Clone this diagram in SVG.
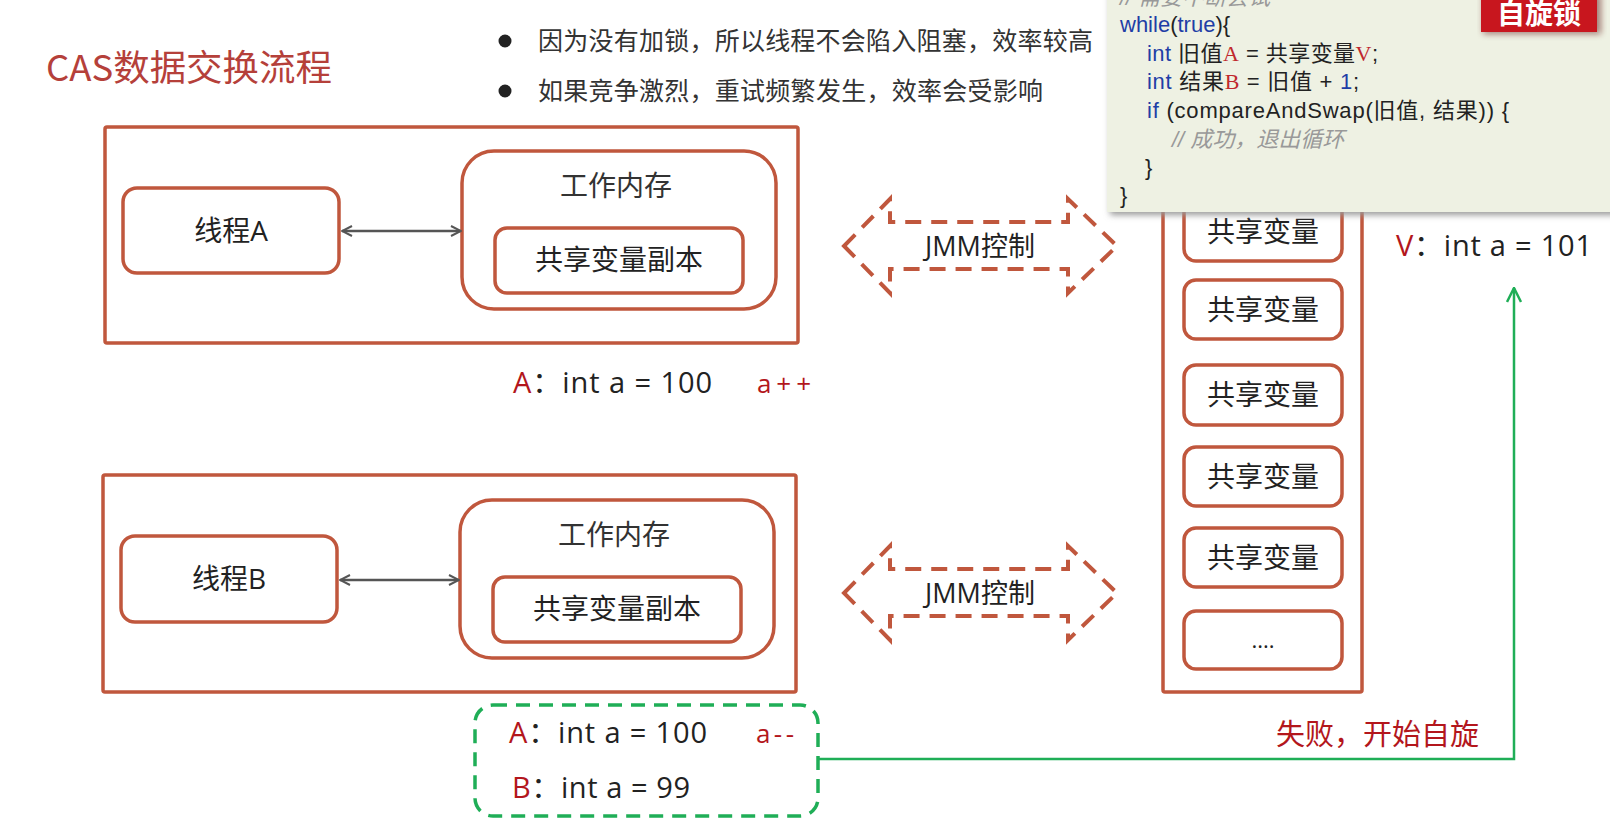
<svg xmlns="http://www.w3.org/2000/svg" width="1610" height="823" viewBox="0 0 1610 823">
<defs>
<style>
.box{fill:#fff;stroke:#c0573d;stroke-width:3.5}
.t{font-family:"Open Sans","Noto Sans CJK SC",sans-serif;fill:#222}
.cjk{font-family:"Noto Sans CJK SC",sans-serif;fill:#222}
.red{fill:#b3161c}
.jmm{fill:none;stroke:#c0573d;stroke-width:4;stroke-dasharray:16 10}
.code{font-family:"Liberation Sans","Noto Sans CJK SC",sans-serif;font-size:22px;fill:#222}
.kw{fill:#1f3ea6}
.rv{font-family:"Liberation Serif",serif;fill:#c0282d}
</style>
<marker id="ga" viewBox="0 0 12 12" refX="11" refY="6" markerWidth="12" markerHeight="12" markerUnits="userSpaceOnUse" orient="auto-start-reverse">
<path d="M1,1 L11,6 L1,11" fill="none" stroke="#555" stroke-width="2"/>
</marker>
<marker id="gr" viewBox="0 0 16 16" refX="15" refY="8" markerWidth="16" markerHeight="16" markerUnits="userSpaceOnUse" orient="auto">
<path d="M1,1 L15,8 L1,15" fill="none" stroke="#1fae57" stroke-width="2.5"/>
</marker>
<filter id="sh" x="-5%" y="-20%" width="110%" height="140%">
<feGaussianBlur stdDeviation="3"/>
</filter>
</defs>
<rect width="1610" height="823" fill="#fff"/>

<g id="title">
<text x="46" y="81" class="cjk" style="font-size:36px;fill:#b5403a" textLength="286" lengthAdjust="spacingAndGlyphs">CAS数据交换流程</text>
</g>
<g id="bullets">
<circle cx="505" cy="41" r="6.5" fill="#222"/>
<text x="538" y="50" class="cjk" style="font-size:25px;fill:#333" textLength="555">因为没有加锁，所以线程不会陷入阻塞，效率较高</text>
<circle cx="505" cy="91" r="6.5" fill="#222"/>
<text x="538" y="100" class="cjk" style="font-size:25px;fill:#333" textLength="505">如果竞争激烈，重试频繁发生，效率会受影响</text>
</g>

<g id="threadA">
<rect x="105" y="127" width="693" height="216" class="box" rx="2"/>
<rect x="123" y="188" width="216" height="85" rx="14" class="box"/>
<text x="231" y="241" text-anchor="middle" class="t" style="font-size:28px">线程A</text>
<rect x="462" y="151" width="314" height="158" rx="32" class="box"/>
<text x="616" y="196" text-anchor="middle" class="cjk" style="font-size:28px;fill:#333">工作内存</text>
<rect x="495" y="228" width="248" height="65" rx="12" class="box"/>
<text x="619" y="270" text-anchor="middle" class="cjk" style="font-size:28px">共享变量副本</text>
</g>
<g id="labelA">
<text x="513" y="393" class="t" style="font-size:29px" textLength="199"><tspan class="red">A</tspan>：int a = 100</text>
<text x="757" y="393" class="t red" style="font-size:26px" textLength="54">a++</text>
</g>

<g id="threadB">
<rect x="103" y="475" width="693" height="217" class="box" rx="2"/>
<rect x="121" y="536" width="216" height="86" rx="14" class="box"/>
<text x="229" y="589" text-anchor="middle" class="t" style="font-size:28px">线程B</text>
<rect x="460" y="500" width="314" height="158" rx="32" class="box"/>
<text x="614" y="545" text-anchor="middle" class="cjk" style="font-size:28px;fill:#333">工作内存</text>
<rect x="493" y="577" width="248" height="65" rx="12" class="box"/>
<text x="617" y="619" text-anchor="middle" class="cjk" style="font-size:28px">共享变量副本</text>
</g>

<g id="jmm1">
<polygon class="jmm" points="844,246 890,199 890,222 1068,222 1068,199 1117,246 1068,293 1068,269 890,269 890,293"/>
<text x="980" y="256" text-anchor="middle" class="t" style="font-size:27px">JMM控制</text>
</g>
<g id="jmm2">
<polygon class="jmm" points="844,593 890,546 890,569 1068,569 1068,546 1117,593 1068,640 1068,616 890,616 890,640"/>
<text x="980" y="603" text-anchor="middle" class="t" style="font-size:27px">JMM控制</text>
</g>

<g id="mainMemory">
<rect x="1163" y="180" width="199" height="512" class="box" rx="2"/>
<rect x="1184" y="195" width="158" height="66" rx="12" class="box"/>
<text x="1263" y="242" text-anchor="middle" class="cjk" style="font-size:28px">共享变量</text>
<rect x="1184" y="280" width="158" height="59" rx="12" class="box"/>
<text x="1263" y="320" text-anchor="middle" class="cjk" style="font-size:28px">共享变量</text>
<rect x="1184" y="365" width="158" height="60" rx="12" class="box"/>
<text x="1263" y="405" text-anchor="middle" class="cjk" style="font-size:28px">共享变量</text>
<rect x="1184" y="447" width="158" height="59" rx="12" class="box"/>
<text x="1263" y="487" text-anchor="middle" class="cjk" style="font-size:28px">共享变量</text>
<rect x="1184" y="528" width="158" height="59" rx="12" class="box"/>
<text x="1263" y="568" text-anchor="middle" class="cjk" style="font-size:28px">共享变量</text>
<rect x="1184" y="611" width="158" height="58" rx="12" class="box"/>
<text x="1263" y="648" text-anchor="middle" class="t" style="font-size:22px">....</text>
</g>

<g id="labelV">
<text x="1396" y="256" class="t" style="font-size:29px" textLength="196"><tspan class="red">V</tspan>：int a = 101</text>
</g>

<g id="labelAB">
<rect x="475" y="705" width="343" height="111" rx="18" fill="none" stroke="#1fae57" stroke-width="3.5" stroke-dasharray="14 9"/>
<text x="509" y="743" class="t" style="font-size:29px" textLength="198"><tspan class="red">A</tspan>：int a = 100</text>
<text x="756" y="743" class="t red" style="font-size:26px" textLength="38">a--</text>
<text x="512" y="798" class="t" style="font-size:29px" textLength="178"><tspan class="red">B</tspan>：int a = 99</text>
</g>

<g id="connectors">
<line x1="342" y1="231" x2="461" y2="231" stroke="#555" stroke-width="2.5" marker-start="url(#ga)" marker-end="url(#ga)"/>
<line x1="340" y1="580" x2="459" y2="580" stroke="#555" stroke-width="2.5" marker-start="url(#ga)" marker-end="url(#ga)"/>
<polyline points="818,759 1514,759 1514,288" fill="none" stroke="#1fae57" stroke-width="2.5" marker-end="url(#gr)"/>
</g>

<g id="failLabel">
<text x="1276" y="745" class="cjk red" style="font-size:29px">失败，开始自旋</text>
</g>

<g id="codeBox">
<rect x="1110" y="-10" width="510" height="225" fill="#999" filter="url(#sh)"/>
<rect x="1107" y="-10" width="510" height="222" fill="#eef1e3"/>
<text x="1120" y="5" class="code" style="font-style:italic;fill:#999">// 需要不断尝试</text>
<text x="1120" y="32" class="code"><tspan class="kw">while</tspan>(<tspan class="kw">true</tspan>){</text>
<text x="1147" y="61" class="code" textLength="231"><tspan class="kw">int</tspan> 旧值<tspan class="rv">A</tspan> = 共享变量<tspan class="rv">V</tspan>;</text>
<text x="1147" y="89" class="code" textLength="212"><tspan class="kw">int</tspan> 结果<tspan class="rv">B</tspan> = 旧值 + <tspan class="kw">1</tspan>;</text>
<text x="1147" y="118" class="code" textLength="362"><tspan class="kw">if</tspan> (compareAndSwap(旧值, 结果)) {</text>
<text x="1172" y="147" class="code" style="font-style:italic;fill:#999">// 成功，退出循环</text>
<text x="1145" y="175" class="code">}</text>
<text x="1120" y="203" class="code">}</text>
</g>
<g id="spinLockTag">
<rect x="1483" y="-6" width="118" height="40" fill="#5a1010" opacity="0.5" filter="url(#sh)"/>
<rect x="1481" y="-8" width="116" height="40" fill="#c8161e"/>
<text x="1539" y="24" text-anchor="middle" class="cjk" style="font-size:28px;font-weight:bold;fill:#fff">自旋锁</text>
</g>
</svg>
